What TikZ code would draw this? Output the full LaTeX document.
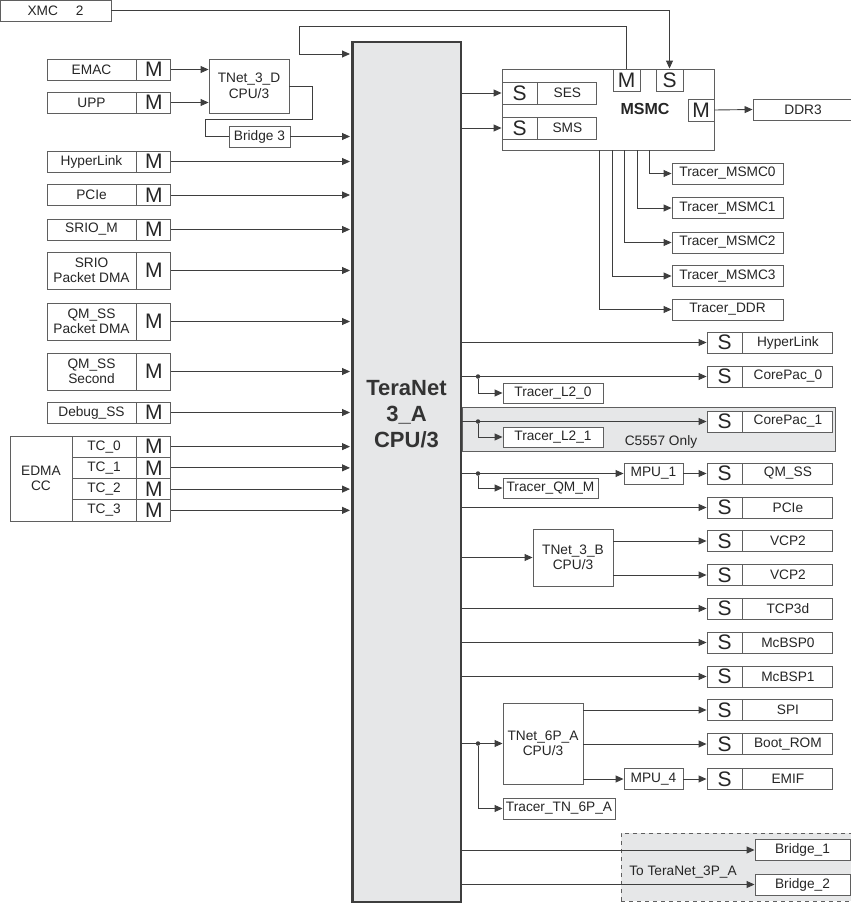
\documentclass[tikz,border=0pt]{standalone}
\usepackage{fontspec}
\setmainfont{Liberation Sans}
\usetikzlibrary{arrows.meta, positioning, calc}
\definecolor{tnfill}{RGB}{230,231,232}
\definecolor{tnline}{RGB}{62,62,62}
\definecolor{boxline}{RGB}{95,95,95}

\begin{document}
\begin{tikzpicture}[
    x=1pt, y=-1pt,
    lbl/.style={font=\fontsize{13.7}{15.5}\selectfont, text=black!85},
    box/.style={lbl, draw=boxline, fill=white, line width=0.9pt, inner sep=0pt, minimum height=21pt, align=center},
    port/.style={box, font=\fontsize{21}{21}\selectfont},
    trc/.style={box, minimum height=20pt},
    link/.style={draw=tnline, line width=0.9pt, -{Triangle[length=8pt,width=7pt]}},
    wire/.style={draw=tnline, line width=0.9pt},
    jdot/.style={circle, fill=tnline, inner sep=0pt, minimum size=4.5pt}
  ]
  \clip (0,0) rectangle (851,905);

  % shaded regions behind the slaves
  \node[draw=boxline, fill=tnfill, line width=0.9pt, minimum width=373pt, minimum height=44pt, inner sep=0pt] (c5557) at (648.5,429) {};
  \node[lbl] (c5557lbl) at (661,442) {C5557 Only};
  \node[draw=boxline, fill=tnfill, line width=0.9pt, dashed, dash pattern=on 4pt off 4pt, minimum width=234pt, minimum height=68pt, inner sep=0pt] (to3p) at (738,867) {};
  \node[lbl] (to3plbl) at (683,872) {To TeraNet\_3P\_A};

  % central switch fabric
  \node[draw=tnline, fill=tnfill, line width=2.5pt, minimum width=108.5pt, minimum height=860pt, inner sep=0pt] (tn) at (406.5,472) {};
  \node[font=\fontsize{22}{26}\selectfont\bfseries, text=black!80, align=center] (tnlbl) at (406.5,414) {TeraNet\\3\_A\\CPU/3};

  % masters
  \foreach \n/\y/\h/\t in {emac/69.5/21/EMAC, upp/102.5/21/UPP, hlk/161.5/21/HyperLink,
      pcie/195/21/PCIe, srio/229.5/21/SRIO\_M, sriod/270.5/37/{SRIO\\Packet DMA},
      qmd/321.5/37/{QM\_SS\\Packet DMA}, qms/371.5/37/{QM\_SS\\Second}, dbg/412.5/21/Debug\_SS}
  {
    \node[box, minimum width=89pt, minimum height=\h pt] (\n) at (91.5,\y) {\t};
    \node[port, minimum width=34pt, minimum height=\h pt, right=0pt of \n] (m\n) {M};
  }
  \node[box, minimum width=62pt, minimum height=85pt] (edma) at (41,478.5) {EDMA\\CC};
  \foreach \i in {0,...,3}
  {
    \node[box, minimum width=64pt, minimum height=21.25pt] (tc\i) at (104,{446.6+21.25*\i}) {TC\_\i};
    \node[port, minimum width=34pt, minimum height=21.25pt, right=0pt of tc\i] (mtc\i) {M};
    \draw[link, shorten >=1pt] (mtc\i.east) -- (mtc\i.east -| tn.west);
  }
  \foreach \n in {hlk, pcie, srio, sriod, qmd, qms, dbg}
    \draw[link, shorten >=1pt] (m\n.east) -- (m\n.east -| tn.west);

  \node[box, minimum width=80pt, minimum height=54pt] (t3d) at (249,86) {TNet\_3\_D\\CPU/3};
  \node[box, minimum width=61pt] (br3) at (259.5,136.5) {Bridge 3};
  \draw[link] (memac.east) -- (memac.east -| t3d.west);
  \draw[link] (mupp.east) -- (mupp.east -| t3d.west);
  \draw[wire] (t3d.east) -- ++(23,0) -- ++(0,33) -| ([xshift=-23pt]br3.west) -- (br3.west);
  \draw[link, shorten >=1pt] (br3.east) -- (br3.east -| tn.west);

  \node[box, minimum width=111pt, minimum height=21.5pt] (xmc) at (55.5,10.75) {XMC\hspace{1.3em}2};

  % MSMC
  \node[box, minimum width=212pt, minimum height=81pt] (msmc) at (608,109.5) {};
  \node[font=\fontsize{16}{16}\selectfont\bfseries, text=black!85] (msmclbl) at (645,109) {MSMC};
  \node[port, minimum width=35pt, minimum height=22pt] (sess) at (519.5,93) {S};
  \node[box, minimum width=59pt, minimum height=22pt, right=0pt of sess] (ses) {SES};
  \node[port, minimum width=35pt, minimum height=22pt] (smss) at (519.5,128) {S};
  \node[box, minimum width=59pt, minimum height=22pt, right=0pt of smss] (sms) {SMS};
  \node[port, minimum width=27pt, minimum height=22pt] (msmcm) at (626.5,80) {M};
  \node[port, minimum width=27pt, minimum height=22pt] (msmcs) at (669.5,80) {S};
  \node[port, minimum width=26pt, minimum height=22pt] (msmcr) at (701,110) {M};
  \node[box, minimum width=100pt] (ddr) at (803,109.5) {DDR3};
  \draw[link] (sess.west -| tn.east) -- (sess.west);
  \draw[link] (smss.west -| tn.east) -- (smss.west);
  \draw[link] (msmcr.east) -- (ddr.west);
  \draw[link] (xmc.east) -| (msmcs.north);
  \coordinate (loop) at (299,26);
  \draw[link] (msmcm.north) |- (loop) -- ++(0,28) -- ++(51,0);

  \foreach \n/\y/\dx/\t in {0/173.5/41/Tracer\_MSMC0, 1/208/29/Tracer\_MSMC1,
      2/242.5/16/Tracer\_MSMC2, 3/276/4/Tracer\_MSMC3, 4/309.5/-9/Tracer\_DDR}
  {
    \node[box, minimum width=111pt] (trm\n) at (727.5,\y) {\t};
    \draw[link] ([xshift=\dx pt]msmc.south) |- (trm\n.west);
  }

  % slaves
  \foreach \n/\y/\t in {shlk/342.5/HyperLink, scp0/376.5/CorePac\_0, scp1/421.5/CorePac\_1,
      sqm/473.5/QM\_SS, spcie/507.5/PCIe, svcpa/541/VCP2, svcpb/575/VCP2, stcp/608.5/TCP3d,
      smb0/642.5/McBSP0, smb1/676.5/McBSP1, sspi/710/SPI, sboot/744/Boot\_ROM, semif/779/EMIF}
  {
    \node[port, minimum width=35pt] (\n) at (724.5,\y) {S};
    \node[box, minimum width=90pt, right=0pt of \n] (n\n) {\t};
  }
  \foreach \n in {shlk, scp0, scp1, spcie, stcp, smb0, smb1}
    \draw[link] (\n.west -| tn.east) -- (\n.west);

  \node[trc, minimum width=100pt] (tl20) at (553,393) {Tracer\_L2\_0};
  \node[trc, minimum width=100pt] (tl21) at (553,437) {Tracer\_L2\_1};
  \node[trc, minimum width=95pt] (tqm) at (550.5,488) {Tracer\_QM\_M};
  \node[box, minimum width=59pt] (mpu1) at (653.5,473.5) {MPU\_1};
  \node[jdot] (j0) at (478,376.5) {};
  \node[jdot] (j1) at (478,421.5) {};
  \node[jdot] (j2) at (478,473.5) {};
  \draw[link] (j0) |- (tl20.west);
  \draw[link] (j1) |- (tl21.west);
  \draw[link] (j2) |- (tqm.west);
  \draw[link] (sqm.west -| tn.east) -- (mpu1.west);
  \draw[link] (mpu1.east) -- (sqm.west);

  \node[box, minimum width=80pt, minimum height=57pt] (t3b) at (573,557.5) {TNet\_3\_B\\CPU/3};
  \draw[link] (t3b.west -| tn.east) -- (t3b.west);
  \draw[link] (svcpa.west -| t3b.east) -- (svcpa.west);
  \draw[link] (svcpb.west -| t3b.east) -- (svcpb.west);

  \node[box, minimum width=80pt, minimum height=81pt] (t6p) at (543,743.5) {TNet\_6P\_A\\CPU/3};
  \node[box, minimum width=112pt] (ttn) at (559,808.5) {Tracer\_TN\_6P\_A};
  \node[box, minimum width=59pt] (mpu4) at (653.5,779) {MPU\_4};
  \node[jdot] (j3) at (478,743.5) {};
  \draw[link] (t6p.west -| tn.east) -- (t6p.west);
  \draw[link] (j3) |- (ttn.west);
  \draw[link] (sspi.west -| t6p.east) -- (sspi.west);
  \draw[link] (sboot.west -| t6p.east) -- (sboot.west);
  \draw[link] (mpu4.west -| t6p.east) -- (mpu4.west);
  \draw[link] (mpu4.east) -- (semif.west);

  \node[box, minimum width=95pt] (br1) at (802.5,850) {Bridge\_1};
  \node[box, minimum width=95pt] (br2) at (802.5,884.5) {Bridge\_2};
  \draw[link] (br1.west -| tn.east) -- (br1.west);
  \draw[link] (br2.west -| tn.east) -- (br2.west);
\end{tikzpicture}
\end{document}
